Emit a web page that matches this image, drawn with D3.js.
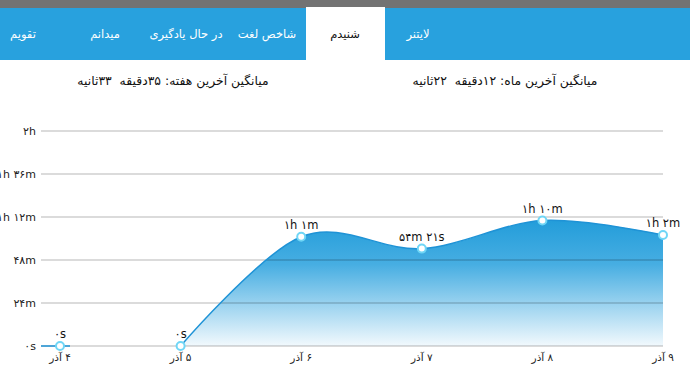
<!DOCTYPE html>
<html>
<head>
<meta charset="utf-8">
<script src="https://cdn.jsdelivr.net/npm/d3@7"></script>
<style>
  html, body { margin: 0; padding: 0; background: #fff; }
  svg { display: block; font-family: "DejaVu Sans", sans-serif; }
</style>
</head>
<body>
<svg id="chart" width="690" height="376"></svg>
<script>
(function () {
  "use strict";

  const days = ["۴ آذر", "۵ آذر", "۶ آذر", "۷ آذر", "۸ آذر", "۹ آذر"];
  const minutes = [0, 0, 61, 54.35, 70, 62];
  const pointLabels = ["۰s", "۰s", "۱h ۱m", "۵۴m ۲۱s", "۱h ۱۰m", "۱h ۲m"];
  const tickValues = [0, 24, 48, 72, 96, 120];
  const tickLabels = ["۰s", "۲۴m", "۴۸m", "۱h ۱۲m", "۱h ۳۶m", "۲h"];
  const tabs = ["تقویم", "میدانم", "در حال یادگیری", "شاخص لغت", "شنیدم", "لایتنر"];
  const tabCenters = [23, 105, 186, 267, 345, 418];
  const activeTab = "شنیدم";
  const headers = [
    { text: "میانگین آخرین هفته: ۳۵دقیقه  ۳۳ثانیه", x: 173 },
    { text: "میانگین آخرین ماه: ۱۲دقیقه  ۲۲ثانیه", x: 505 }
  ];

  const data = days.map((d, i) => ({ day: d, value: minutes[i], label: pointLabels[i] }));
  const svg = d3.select("#chart");

  // top bar
  svg.append("rect").attr("x", 0).attr("y", 0).attr("width", 690).attr("height", 8).attr("fill", "#737373");
  svg.append("rect").attr("x", 0).attr("y", 8).attr("width", 690).attr("height", 52).attr("fill", "#28a1de");
  svg.append("rect").attr("x", 306).attr("y", 7).attr("width", 79).attr("height", 53).attr("fill", "#fff");

  svg.selectAll("text.tab")
    .data(tabs)
    .join("text")
    .attr("class", "tab")
    .attr("x", (d, i) => tabCenters[i])
    .attr("y", 38)
    .attr("text-anchor", "middle")
    .attr("direction", "rtl")
    .attr("font-size", 11.5)
    .attr("fill", d => d === activeTab ? "#111" : "#fff")
    .text(d => d);

  svg.selectAll("text.header")
    .data(headers)
    .join("text")
    .attr("class", "header")
    .attr("x", d => d.x)
    .attr("y", 85)
    .attr("text-anchor", "middle")
    .attr("direction", "rtl")
    .attr("font-size", 12.4)
    .attr("fill", "#111")
    .attr("xml:space", "preserve")
    .text(d => d.text);

  const x = d3.scalePoint().domain(days).range([60, 663]);
  const y = d3.scaleLinear().domain([0, 120]).range([346, 131]);
  const gridLeft = 41, gridRight = 663;

  const grad = svg.append("defs").append("linearGradient")
    .attr("id", "areaGrad")
    .attr("gradientUnits", "userSpaceOnUse")
    .attr("x1", 0).attr("x2", 0)
    .attr("y1", y(70)).attr("y2", y(0));
  grad.append("stop").attr("offset", 0).attr("stop-color", "#239dda");
  grad.append("stop").attr("offset", 0.35).attr("stop-color", "#47aee2");
  grad.append("stop").attr("offset", 1).attr("stop-color", "#f2f9fd");

  const curve = d3.curveCardinal.tension(0);
  const rising = data.slice(1);

  svg.append("path")
    .datum(rising)
    .attr("fill", "url(#areaGrad)")
    .attr("d", d3.area().curve(curve).x(d => x(d.day)).y0(y(0)).y1(d => y(d.value)));

  // gridlines over the area
  svg.selectAll("line.grid")
    .data(tickValues)
    .join("line")
    .attr("class", "grid")
    .attr("x1", gridLeft).attr("x2", gridRight)
    .attr("y1", d => y(d)).attr("y2", d => y(d))
    .attr("stroke", "rgba(0,0,0,0.19)")
    .attr("stroke-width", 1.5);

  svg.selectAll("text.ytick")
    .data(tickValues)
    .join("text")
    .attr("class", "ytick")
    .attr("x", 36)
    .attr("y", d => y(d) + 4)
    .attr("text-anchor", "end")
    .attr("font-size", 11)
    .attr("fill", "#222")
    .text((d, i) => tickLabels[i]);

  svg.selectAll("text.xtick")
    .data(days)
    .join("text")
    .attr("class", "xtick")
    .attr("x", d => x(d))
    .attr("y", 361)
    .attr("text-anchor", "middle")
    .attr("direction", "rtl")
    .attr("font-size", 10.5)
    .attr("fill", "#222")
    .text(d => d);

  // short line stub around the first point
  svg.append("line")
    .attr("x1", gridLeft).attr("x2", x(days[0]) + 10)
    .attr("y1", y(0)).attr("y2", y(0))
    .attr("stroke", "#1f93d6").attr("stroke-width", 1.5);

  svg.append("path")
    .datum(rising)
    .attr("fill", "none")
    .attr("stroke", "#1f93d6")
    .attr("stroke-width", 1.5)
    .attr("d", d3.line().curve(curve).x(d => x(d.day)).y(d => y(d.value)));

  svg.selectAll("circle.pt")
    .data(data)
    .join("circle")
    .attr("class", "pt")
    .attr("cx", d => x(d.day))
    .attr("cy", d => y(d.value))
    .attr("r", 4)
    .attr("fill", "#fff")
    .attr("stroke", "#6fd6f6")
    .attr("stroke-width", 2);

  svg.selectAll("text.plabel")
    .data(data)
    .join("text")
    .attr("class", "plabel")
    .attr("x", d => x(d.day))
    .attr("y", d => y(d.value) - 8)
    .attr("text-anchor", "middle")
    .attr("font-size", 11.5)
    .attr("fill", "#111")
    .text(d => d.label);
})();
</script>
</body>
</html>
